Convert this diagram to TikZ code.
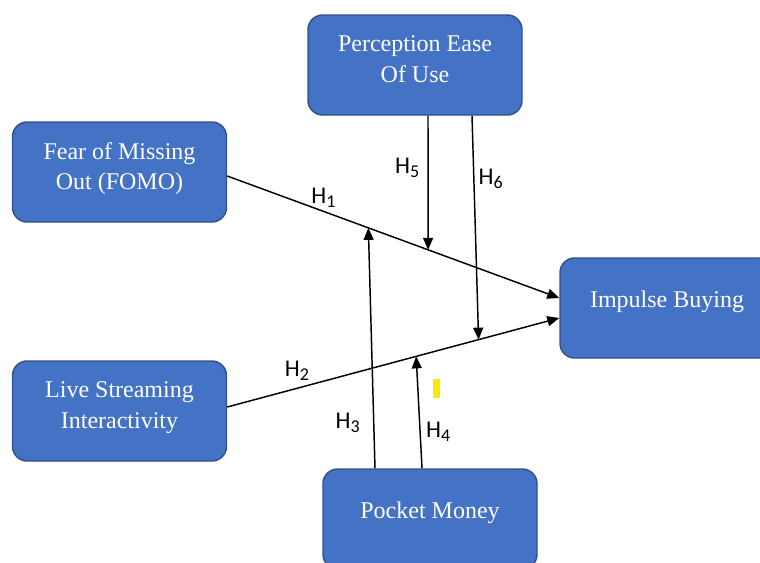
\documentclass[tikz,border=0pt]{standalone}
\usepackage{fontspec}
\setmainfont{Liberation Serif}
\newfontfamily\hypfont{Carlito}
\usetikzlibrary{arrows.meta,positioning}
\definecolor{boxfill}{HTML}{4472C4}
\definecolor{boxline}{HTML}{2F528F}
\newcommand{\hname}[1]{H\raisebox{-3pt}{\fontsize{13.5}{13.5}\selectfont#1}}
\tikzset{
  construct/.style={draw=boxline,line width=1.1pt,fill=boxfill,rounded corners=11pt,
    minimum width=160.5pt,minimum height=75pt,align=center,text=white,
    font=\fontsize{18}{23}\selectfont,lift=9pt},
  lift/.style={execute at end node={\rule[-#1]{0pt}{#1}}},
  link/.style={line width=1.1pt,-{Triangle[length=9pt,width=7.5pt]}},
  hyp/.style={font=\hypfont\fontsize{18}{20}\selectfont,inner sep=2pt}
}
\begin{document}
\begin{tikzpicture}[x=0.75pt,y=-0.75pt]
  \useasboundingbox (0,0) rectangle (760,562);
  \node[construct] (ease) at (415,65) {Perception Ease\\Of Use};
  \node[construct] (fomo) at (119.5,172) {Fear of Missing\\Out (FOMO)};
  \node[construct] (live) at (119.5,411) {Live Streaming\\Interactivity};
  \node[construct,lift=13pt] (impulse) at (667,308) {Impulse Buying};
  \node[construct,lift=13pt] (pocket) at (430,519) {Pocket Money};
  % main paths
  \draw[link] ([yshift=-3pt]fomo.east) -- node[hyp,pos=.29,above=0pt] {\hname{1}}
    coordinate[pos=.425] (h3end) coordinate[pos=.605] (h5end) ([yshift=7.5pt]impulse.west);
  \draw[link] ([yshift=3pt]live.east) -- node[hyp,pos=.21,above=3pt] {\hname{2}}
    coordinate[pos=.569] (h4end) coordinate[pos=.757] (h6end) ([yshift=-7.5pt]impulse.west);
  % moderating paths
  \draw[link] ([xshift=-41.25pt]pocket.north) -- node[hyp,pos=.19,left=8pt] {\hname{3}} (h3end);
  \draw[link] ([xshift=-6pt]pocket.north) -- node[hyp,pos=.33,right=2pt] {\hname{4}} (h4end);
  \draw[link] ([xshift=9.75pt]ease.south) -- node[hyp,pos=.39,left=4pt] {\hname{5}} (h5end);
  \draw[link] ([xshift=42.75pt]ease.south) -- node[hyp,pos=.284,right=1pt] {\hname{6}} (h6end);
  \fill[yellow!90!orange] (433,379) rectangle (440,398);
\end{tikzpicture}
\end{document}
